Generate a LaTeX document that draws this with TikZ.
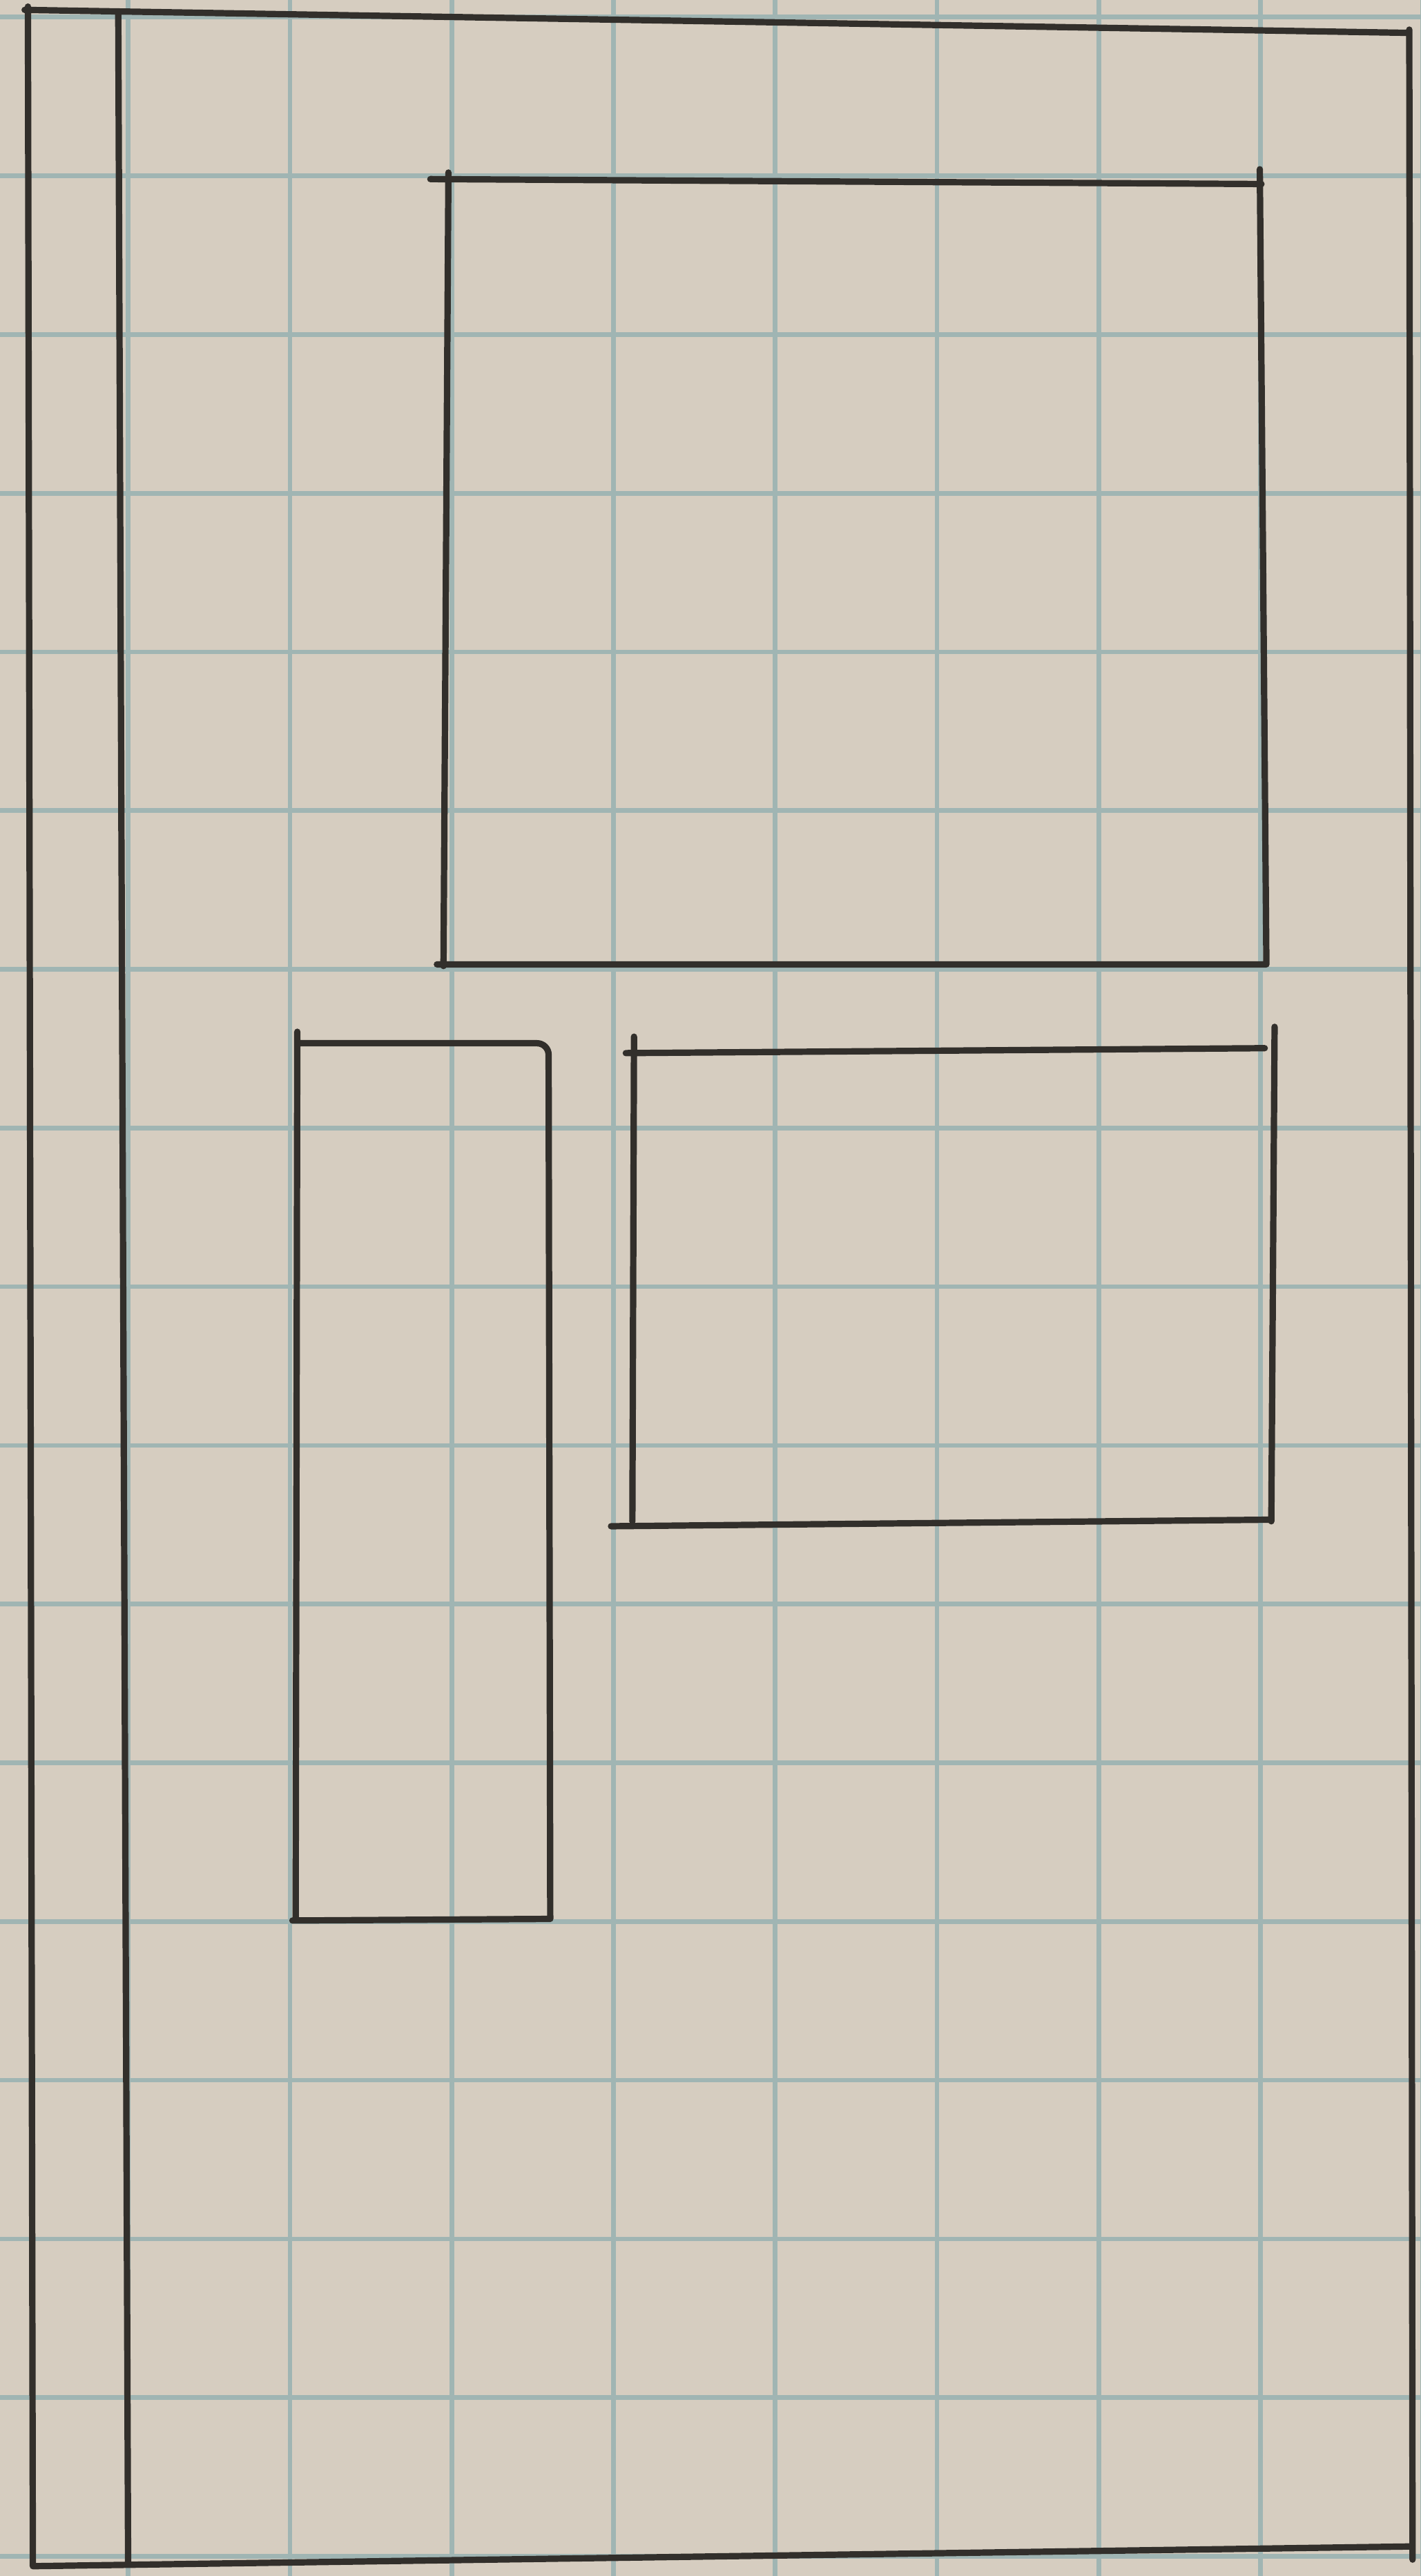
\documentclass[tikz,border=0pt]{standalone}
\usepackage{tikz}

\definecolor{paper}{RGB}{214,205,192}
\definecolor{gridblue}{RGB}{160,181,179}
\definecolor{ink}{RGB}{50,47,43}

\begin{document}
\begin{tikzpicture}[x=0.01cm, y=-0.01cm,
        gridline/.style={gridblue, line width=0.8pt},
        pen/.style={ink, line width=1.1pt, line cap=round, line join=round}]
    \fill[paper] (0, 0) rectangle (865, 1568);
    \useasboundingbox (0, 0) rectangle (865, 1568);
    \draw[gridline]
        \foreach \i in {0, ..., 8} {
            ({78 + 98.5*\i}, 0) -- ({78 + 98.5*\i}, 1568)
        }
        \foreach \j in {0, ..., 16} {
            (0, {10.4 + 96.6*\j}) -- (865, {10.4 + 96.6*\j})
        };
    \draw[pen]
        (15, 6) -- (858, 20)
        (17, 4) -- (20, 1562)
        (20, 1562) -- (859, 1550)
        (858, 18) -- (860, 1558)
        (72, 8) -- (78, 1561);
    \draw[pen]
        (262, 109) -- (768, 112)
        (273, 105) -- (270, 588)
        (767, 103) -- (771, 587)
        (266, 587) -- (771, 587);
    \draw[pen]
        (181, 628) -- (180, 1168)
        [rounded corners=2pt] (181, 635) -- (334, 635) -- (335, 1168)
        (178, 1169) -- (335, 1168);
    \draw[pen]
        (386, 631) -- (385, 926)
        (381, 641) -- (770, 638)
        (776, 625) -- (774, 926)
        (372, 929) -- (774, 925);
\end{tikzpicture}
\end{document}
